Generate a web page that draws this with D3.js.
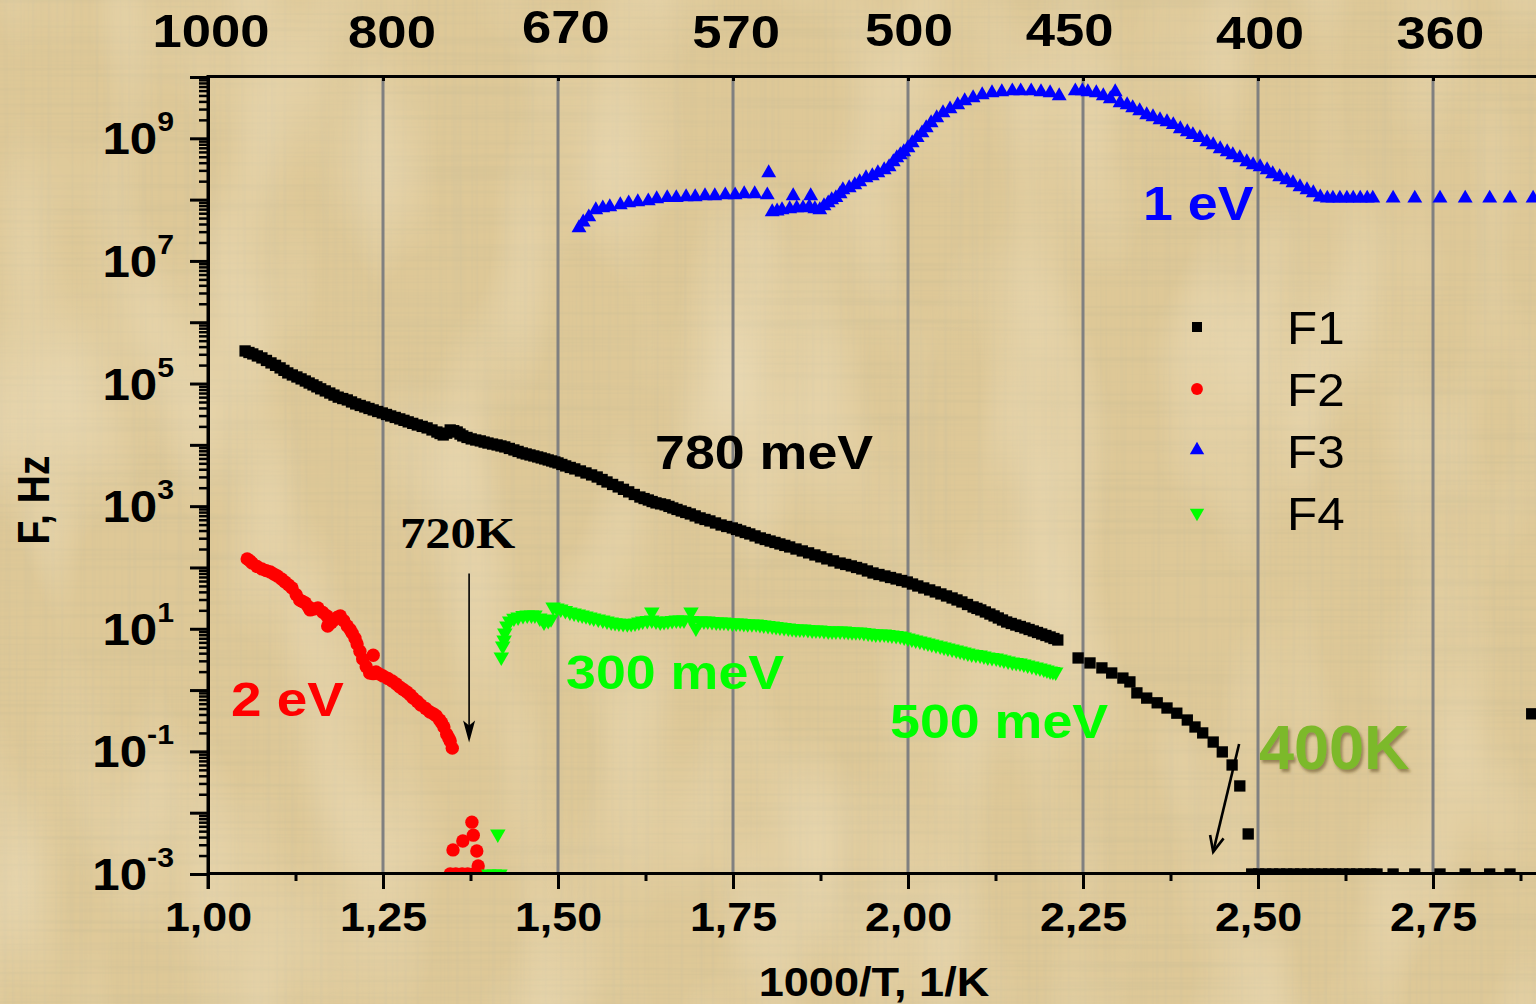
<!DOCTYPE html>
<html>
<head>
<meta charset="utf-8">
<script src="https://cdn.jsdelivr.net/npm/d3@7"></script>
<style>
  html, body { margin: 0; padding: 0; background: #dec897; overflow: hidden; }
  svg { display: block; }
</style>
</head>
<body>
<svg id="chart" width="1536" height="1004"></svg>
<script>
// ---- data: [1000/T (1/K), F (Hz)] ----
const seriesNames = ["F1", "F2", "F3", "F4"];

const f1 = [
  [1.053,3.4e5],[1.0585,3.21e5],[1.064,3.04e5],[1.0705,2.82e5],[1.077,2.62e5],[1.0835,2.38e5],
  [1.090,2.17e5],[1.0965,1.98e5],[1.103,1.80e5],[1.1085,1.64e5],[1.114,1.49e5],[1.1205,1.38e5],
  [1.127,1.28e5],[1.133,1.19e5],[1.139,1.10e5],[1.1445,1.02e5],[1.150,9.5e4],[1.1555,8.83e4],
  [1.161,8.2e4],[1.1675,7.58e4],[1.174,7.0e4],[1.180,6.48e4],[1.186,6.0e4],[1.1925,5.69e4],
  [1.199,5.4e4],[1.205,5.01e4],[1.211,4.65e4],[1.2175,4.39e4],[1.224,4.15e4],[1.230,3.92e4],
  [1.236,3.71e4],[1.2425,3.50e4],[1.249,3.31e4],[1.255,3.13e4],[1.261,2.96e4],[1.2675,2.80e4],
  [1.274,2.65e4],[1.280,2.51e4],[1.286,2.37e4],[1.2925,2.24e4],[1.299,2.11e4],[1.306,2.00e4],
  [1.313,1.89e4],[1.320,1.75e4],[1.327,1.62e4],[1.3315,1.53e4],[1.336,1.45e4],[1.341,1.55e4],
  [1.346,1.75e4],[1.351,1.70e4],[1.356,1.62e4],[1.360,1.50e4],[1.364,1.40e4],[1.370,1.32e4],
  [1.376,1.25e4],[1.3825,1.20e4],[1.389,1.16e4],[1.3945,1.11e4],[1.400,1.07e4],[1.4065,1.03e4],
  [1.413,9.96e3],[1.4185,9.6e3],[1.424,9.25e3],[1.4305,8.74e3],[1.437,8.26e3],[1.443,7.81e3],
  [1.449,7.38e3],[1.4545,7.1e3],[1.460,6.84e3],[1.4655,6.59e3],[1.471,6.35e3],[1.476,6.12e3],
  [1.481,5.89e3],[1.486,5.67e3],[1.491,5.46e3],[1.4955,5.26e3],[1.500,5.07e3],[1.5055,4.79e3],
  [1.511,4.53e3],[1.5175,4.28e3],[1.524,4.05e3],[1.532,3.75e3],[1.540,3.48e3],[1.548,3.23e3],
  [1.556,2.99e3],[1.563,2.72e3],[1.570,2.48e3],[1.578,2.26e3],[1.586,2.06e3],[1.5935,1.88e3],
  [1.601,1.71e3],[1.609,1.55e3],[1.617,1.41e3],[1.623,1.33e3],[1.629,1.26e3],[1.6345,1.19e3],
  [1.640,1.13e3],[1.6465,1.09e3],[1.653,1.05e3],[1.6585,991],[1.664,935],[1.670,884],
  [1.676,835],[1.6825,789],[1.689,746],[1.696,693],[1.703,643],[1.710,607],[1.717,574],
  [1.725,532],[1.733,493],[1.741,466],[1.749,441],[1.755,417],[1.761,394],[1.7675,372],
  [1.774,352],[1.7815,327],[1.789,303],[1.796,286],[1.803,270],[1.810,256],[1.817,242],
  [1.824,229],[1.831,216],[1.840,200],[1.849,186],[1.858,173],[1.867,160],[1.8755,149],
  [1.884,138],[1.8935,128],[1.903,118],[1.911,112],[1.919,106],[1.9265,100],[1.934,94.6],
  [1.942,87.7],[1.950,81.3],[1.9585,76.8],[1.967,72.6],[1.975,68.6],[1.983,64.9],[1.991,61.3],
  [1.999,57.9],[2.0065,53.7],[2.014,49.9],[2.0225,46.3],[2.031,43.0],[2.039,39.9],[2.047,37.0],
  [2.055,34.3],[2.063,31.8],[2.070,29.5],[2.077,27.4],[2.085,24.9],[2.093,22.7],[2.0985,21.5],
  [2.104,20.3],[2.1105,18.8],[2.117,17.4],[2.123,16.2],[2.129,15.0],[2.135,13.9],[2.141,12.9],
  [2.1475,12.2],[2.154,11.5],[2.1605,10.9],[2.167,10.3],[2.173,9.73],[2.179,9.2],[2.185,8.7],
  [2.191,8.22],[2.197,7.77],[2.203,7.35],[2.2085,6.94],[2.214,6.56],
  [2.243,3.34],[2.260,2.77],[2.277,2.30],[2.291,1.90],[2.307,1.57],[2.317,1.36],[2.327,0.90],
  [2.341,0.74],[2.356,0.62],[2.370,0.51],[2.384,0.42],[2.399,0.325],[2.410,0.25],[2.421,0.20],
  [2.436,0.142],[2.449,0.098],[2.463,0.060],[2.474,0.0273],[2.486,0.0045],
  [2.491,1e-3],[2.501,1e-3],[2.511,1e-3],[2.521,1e-3],[2.531,1e-3],[2.541,1e-3],[2.551,1e-3],
  [2.561,1e-3],[2.571,1e-3],[2.581,1e-3],[2.591,1e-3],[2.601,1e-3],[2.611,1e-3],[2.621,1e-3],
  [2.631,1e-3],[2.641,1e-3],[2.651,1e-3],[2.661,1e-3],[2.670,1e-3],
  [2.693,1e-3],[2.724,1e-3],[2.760,1e-3],[2.796,1e-3],[2.831,1e-3],[2.860,1e-3],
  [2.891,0.41]
];

const f2 = [
  [1.056,138],[1.060,128],[1.063,118],[1.070,104],[1.077,94.6],[1.083,89],[1.089,84.5],
  [1.094,78],[1.099,72.6],[1.105,65],[1.110,58],[1.115,52],[1.120,46.3],[1.126,36],
  [1.131,29.5],[1.135,27.8],[1.139,26.4],[1.143,23],[1.146,20.3],[1.151,21],[1.157,21.8],
  [1.164,18.5],[1.170,16.2],[1.171,11.1],[1.176,12.5],[1.180,13.9],[1.185,15.5],[1.189,16.2],
  [1.194,13.5],[1.199,11.1],[1.203,9.7],[1.206,8.5],[1.210,7.0],[1.213,5.65],[1.217,4.3],
  [1.221,3.2],[1.226,2.4],[1.236,3.7],[1.231,1.9],[1.236,1.85],[1.240,1.97],[1.245,1.82],
  [1.250,1.70],[1.257,1.55],[1.263,1.41],[1.269,1.26],[1.274,1.12],[1.279,1.02],[1.284,0.93],
  [1.289,0.83],[1.293,0.74],[1.299,0.65],[1.304,0.57],[1.311,0.50],[1.317,0.44],[1.322,0.41],
  [1.326,0.38],[1.331,0.325],[1.334,0.29],[1.337,0.25],[1.341,0.19],[1.344,0.165],
  [1.346,0.148],[1.349,0.113],
  [1.350,2.47e-3],[1.364,3.45e-3],[1.377,7.0e-3],[1.379,4.3e-3],[1.384,2.37e-3],[1.386,1.35e-3],
  [1.346,1e-3],[1.354,1e-3],[1.363,1e-3],[1.371,1e-3],[1.380,1e-3],[1.387,1e-3]
];

const f3 = [
  [1.530,3.45e7],[1.536,4.3e7],[1.544,5.2e7],[1.554,6.8e7],[1.564,7.3e7],[1.574,7.6e7],
  [1.589,8.2e7],[1.601,8.8e7],[1.614,9.2e7],[1.629,9.5e7],[1.641,1.03e8],[1.656,1.07e8],
  [1.669,1.07e8],[1.683,1.11e8],[1.696,1.11e8],[1.710,1.15e8],[1.724,1.15e8],[1.739,1.19e8],
  [1.753,1.19e8],[1.766,1.24e8],[1.781,1.24e8],[1.799,1.19e8],[1.801,2.73e8],[1.806,6.3e7],
  [1.813,6.5e7],[1.820,6.8e7],[1.831,7.05e7],[1.836,1.15e8],[1.841,7.3e7],[1.850,7.3e7],
  [1.859,7.6e7],[1.861,1.15e8],[1.867,7.05e7],[1.874,6.8e7],[1.880,7.9e7],[1.886,8.8e7],
  [1.891,9.9e7],[1.897,1.07e8],[1.903,1.24e8],[1.907,1.44e8],[1.916,1.55e8],[1.924,1.74e8],
  [1.931,1.95e8],[1.940,2.26e8],[1.949,2.44e8],[1.957,2.73e8],[1.966,3.05e8],[1.973,3.41e8],
  [1.979,4.12e8],[1.984,4.79e8],[1.989,5.36e8],[1.994,6.0e8],[2.000,6.97e8],[2.006,8.4e8],
  [2.013,1.02e9],[2.020,1.22e9],[2.026,1.48e9],[2.033,1.78e9],[2.041,2.15e9],[2.050,2.6e9],
  [2.060,3.0e9],[2.071,3.5e9],[2.081,4.07e9],[2.093,4.56e9],[2.106,5.1e9],[2.120,5.5e9],
  [2.134,5.7e9],[2.149,5.9e9],[2.161,5.9e9],[2.176,5.9e9],[2.190,5.7e9],[2.203,5.5e9],
  [2.216,4.92e9],
  [2.239,5.9e9],[2.249,5.9e9],[2.257,5.7e9],[2.269,5.5e9],[2.279,4.92e9],[2.289,4.4e9],
  [2.296,5.7e9],[2.303,3.78e9],[2.313,3.5e9],[2.321,3.13e9],[2.331,2.8e9],[2.341,2.41e9],
  [2.350,2.23e9],[2.360,2.0e9],[2.370,1.85e9],[2.379,1.66e9],[2.389,1.42e9],[2.399,1.27e9],
  [2.407,1.14e9],[2.417,1.02e9],[2.427,8.7e8],[2.436,7.8e8],[2.446,6.7e8],[2.456,6.0e8],
  [2.464,5.36e8],[2.474,4.79e8],[2.484,4.12e8],[2.493,3.68e8],[2.503,3.41e8],[2.513,3.05e8],
  [2.521,2.62e8],[2.531,2.35e8],[2.541,2.09e8],[2.550,1.87e8],[2.560,1.61e8],[2.570,1.44e8],
  [2.579,1.29e8],[2.589,1.1e8],[2.599,1.05e8],[2.607,1.05e8],[2.617,1.05e8],[2.627,1.05e8],
  [2.636,1.05e8],[2.646,1.05e8],[2.656,1.05e8],[2.664,1.05e8],[2.693,1.05e8],[2.724,1.05e8],
  [2.760,1.05e8],[2.796,1.05e8],[2.831,1.05e8],[2.860,1.05e8],[2.893,1.05e8]
];

const f4 = [
  [1.419,3.47],[1.421,5.24],[1.423,6.56],[1.424,8.5],[1.427,11.1],[1.431,13.4],[1.437,14.9],
  [1.443,15.6],[1.450,16.4],[1.456,16.8],[1.462,16.8],[1.467,16.8],[1.474,15.0],[1.480,12.9],
  [1.486,13.6],[1.490,14.5],
  [1.493,22.7],[1.4985,21.8],[1.504,21.0],[1.5105,19.9],[1.517,18.8],[1.523,18.1],[1.529,17.4],
  [1.5345,16.8],[1.540,16.2],[1.5455,15.6],[1.551,15.0],[1.5575,14.4],[1.564,13.9],[1.570,13.4],
  [1.576,12.9],[1.5815,12.6],[1.587,12.4],[1.593,12.2],[1.599,12.0],[1.6045,12.2],[1.610,12.4],
  [1.6155,12.9],[1.621,13.4],[1.6275,13.6],[1.634,18.8],[1.634,13.9],[1.640,13.4],[1.646,12.9],
  [1.6515,13.1],[1.657,13.4],[1.663,13.6],[1.669,13.9],[1.6745,13.9],[1.680,13.9],[1.690,18.8],
  [1.6915,13.6],[1.697,10.3],[1.703,13.4],[1.7085,13.4],[1.714,13.4],[1.720,13.1],[1.726,12.9],
  [1.7315,12.9],[1.737,12.9],[1.743,12.6],[1.749,12.4],[1.7545,12.4],[1.760,12.4],[1.7655,12.2],
  [1.771,12.0],[1.777,12.0],[1.783,12.0],[1.7885,11.7],[1.794,11.5],[1.800,11.3],[1.806,11.1],
  [1.8115,10.9],[1.817,10.7],[1.823,10.5],[1.829,10.3],[1.8345,10.1],[1.840,9.93],[1.8455,9.93],
  [1.851,9.93],[1.857,9.74],[1.863,9.55],[1.8685,9.55],[1.874,9.55],[1.880,9.37],[1.886,9.2],
  [1.8915,9.2],[1.897,9.2],[1.903,9.2],[1.909,9.2],[1.9145,9.05],[1.920,8.9],[1.9255,8.9],
  [1.931,8.9],[1.937,8.71],[1.943,8.53],[1.9485,8.37],[1.954,8.22],[1.960,8.22],[1.966,8.22],
  [1.9715,8.06],[1.977,7.9],[1.983,7.76],[1.989,7.63],[1.9945,7.35],[2.000,7.08],[2.0055,6.81],
  [2.011,6.56],[2.017,6.32],[2.023,6.09],[2.0285,5.87],[2.034,5.65],[2.040,5.44],[2.046,5.24],
  [2.0515,5.05],[2.057,4.86],[2.063,4.68],[2.069,4.51],[2.0745,4.35],[2.080,4.19],[2.0855,4.03],
  [2.091,3.88],[2.097,3.81],[2.103,3.74],[2.1085,3.60],[2.114,3.47],[2.120,3.40],[2.126,3.34],
  [2.1315,3.22],[2.137,3.10],[2.143,2.98],[2.149,2.87],[2.1545,2.82],[2.160,2.77],[2.1655,2.66],
  [2.171,2.56],[2.177,2.47],[2.183,2.38],[2.1885,2.29],[2.194,2.21],[2.1985,2.13],[2.203,2.05],
  [2.207,2.01],[2.211,1.97],
  [1.414,4.5e-3],[1.401,1e-3],[1.409,1e-3],[1.417,1e-3]
];

// axis ticks and labels
const xMajor = [1.00, 1.25, 1.50, 1.75, 2.00, 2.25, 2.50, 2.75];
const xMinor = [1.125, 1.375, 1.625, 1.875, 2.125, 2.375, 2.625, 2.875];
const gridValues = [1.25, 1.50, 1.75, 2.00, 2.25, 2.50, 2.75];
const yDecadeExps = d3.range(-3, 11);
const yLabelExps = [9, 7, 5, 3, 1, -1, -3];
const topTemps = [1000, 800, 670, 570, 500, 450, 400, 360];
const xTitle = "1000/T, 1/K";
const yTitle = "F, Hz";

// ---- layout ----
const W = 1536, H = 1004;
const plot = { left: 208, top: 77, bottom: 874, right: 1538 };
const svg = d3.select("#chart");
const defs = svg.append("defs");

const x = d3.scaleLinear().domain([1, 2.9]).range([plot.left, plot.right]);
const y = d3.scaleLog().domain([1e-3, 1e10]).range([plot.bottom, plot.top]);

const SANS = "'Liberation Sans', Arial, Helvetica, sans-serif";
const SERIF = "'Liberation Serif', 'Times New Roman', serif";

// paper background with fine fibre texture
svg.append("rect").attr("width", W).attr("height", H).attr("fill", "#dec897");
function fibre(id, freq, seed, matrix) {
  const f = defs.append("filter").attr("id", id)
    .attr("x", 0).attr("y", 0).attr("width", "100%").attr("height", "100%");
  f.append("feTurbulence").attr("type", "fractalNoise").attr("baseFrequency", freq)
    .attr("numOctaves", 2).attr("seed", seed);
  f.append("feColorMatrix").attr("type", "matrix").attr("values", matrix);
  svg.append("rect").attr("width", W).attr("height", H).attr("filter", `url(#${id})`);
}
fibre("fibreH", "0.003 0.25", 4, "0 0 0 0 0.62  0 0 0 0 0.52  0 0 0 0 0.30  1.1 0 0 0 -0.48");
fibre("fibreV", "0.25 0.003", 9, "0 0 0 0 0.64  0 0 0 0 0.54  0 0 0 0 0.32  1.1 0 0 0 -0.48");
fibre("sheen", "0.01 0.004", 2, "0 0 0 0 0.94  0 0 0 0 0.86  0 0 0 0 0.68  0.8 0 0 0 -0.33");

// vertical grid lines
svg.append("g").selectAll("line").data(gridValues).join("line")
  .attr("x1", d => x(d)).attr("x2", d => x(d))
  .attr("y1", plot.top).attr("y2", plot.bottom)
  .attr("stroke", "#808080").attr("stroke-width", 3);

// data markers, clipped to the frame
defs.append("clipPath").attr("id", "frame").append("rect")
  .attr("x", plot.left).attr("y", plot.top)
  .attr("width", W - plot.left).attr("height", plot.bottom - plot.top);

const shapes = {
  square: d3.symbol().type(d3.symbolSquare).size(128)(),
  circle: d3.symbol().type(d3.symbolCircle).size(140)(),
  up: d3.symbol().type(d3.symbolTriangle).size(96)(),
  down: d3.symbol().type(d3.symbolTriangle).size(104)()
};
const legendShapes = {
  square: d3.symbol().type(d3.symbolSquare).size(100)(),
  circle: d3.symbol().type(d3.symbolCircle).size(110)(),
  up: d3.symbol().type(d3.symbolTriangle).size(90)(),
  down: d3.symbol().type(d3.symbolTriangle).size(90)()
};
const styles = [
  { data: f1, shape: "square", color: "#000000", rot: 0 },
  { data: f2, shape: "circle", color: "#ff0000", rot: 0 },
  { data: f3, shape: "up", color: "#0000ff", rot: 0 },
  { data: f4, shape: "down", color: "#00ff00", rot: 180 }
];

const marks = svg.append("g").attr("clip-path", "url(#frame)");
styles.forEach(s => {
  marks.append("g").selectAll("path").data(s.data).join("path")
    .attr("d", shapes[s.shape])
    .attr("transform", d => `translate(${x(d[0])},${y(d[1])})` + (s.rot ? ` rotate(${s.rot})` : ""))
    .attr("fill", s.color);
});

// ---- axes ----
function styleAxis(g, w) {
  g.selectAll(".domain").attr("stroke", "#000").attr("stroke-width", w);
  g.selectAll(".tick line").attr("stroke", "#000").attr("stroke-width", w);
}

// bottom
const gxMinor = svg.append("g").attr("transform", `translate(0,${plot.bottom - 1})`)
  .call(d3.axisBottom(x).tickValues(xMinor).tickSize(8).tickFormat(""));
gxMinor.select(".domain").remove();
styleAxis(gxMinor, 3);

const gx = svg.append("g").attr("transform", `translate(0,${plot.bottom - 1})`)
  .call(d3.axisBottom(x).tickValues(xMajor).tickSize(16).tickSizeOuter(0).tickPadding(14)
    .tickFormat(d => d3.format(".2f")(d).replace(".", ",")));
styleAxis(gx, 3);
gx.selectAll("text")
  .attr("font-family", SANS).attr("font-weight", "bold").attr("font-size", 40)
  .attr("fill", "#000").attr("transform", "scale(1.12,1)");

// top
const gTop = svg.append("g").attr("transform", `translate(0,${plot.top - 1})`)
  .call(d3.axisTop(x).tickValues(xMajor).tickSize(-5).tickSizeOuter(0).tickFormat(""));
styleAxis(gTop, 3);

// left
const gyMinor = svg.append("g").attr("transform", `translate(${plot.left},0)`)
  .call(d3.axisLeft(y).tickValues(d3.merge(yDecadeExps.slice(0, -1).map(e => d3.range(2, 10).map(k => k * Math.pow(10, e)))))
    .tickSize(9).tickFormat(""));
gyMinor.select(".domain").remove();
styleAxis(gyMinor, 2.5);

const gy = svg.append("g").attr("transform", `translate(${plot.left},0)`)
  .call(d3.axisLeft(y).tickValues(yDecadeExps.map(e => Math.pow(10, e))).tickSize(18).tickSizeOuter(0).tickFormat(""));
styleAxis(gy, 3);
svg.append("line").attr("x1", plot.left).attr("x2", plot.left)
  .attr("y1", plot.top - 2).attr("y2", plot.bottom + 15)
  .attr("stroke", "#000").attr("stroke-width", 3);

// ---- text helper (slightly widened glyphs) ----
function label(str, px, py, o = {}) {
  const g = svg.append("g")
    .attr("transform", `translate(${px},${py}) scale(${o.sx || 1.12},${o.sy || 1})` + (o.rot ? ` rotate(${o.rot})` : ""));
  const t = g.append("text")
    .attr("text-anchor", o.anchor || "start")
    .attr("font-family", o.family || SANS)
    .attr("font-weight", o.weight || "bold")
    .attr("font-size", o.size || 40)
    .attr("fill", o.fill || "#000")
    .text(str);
  if (o.filter) t.attr("filter", o.filter);
  return t;
}

// y tick labels 10^n
yLabelExps.forEach(e => {
  const py = y(Math.pow(10, e));
  const g = svg.append("g").attr("transform", `translate(174,${py + 16}) scale(1.12,1)`);
  const t = g.append("text").attr("text-anchor", "end")
    .attr("font-family", SANS).attr("font-weight", "bold").attr("fill", "#000");
  t.append("tspan").attr("font-size", 44).text("10");
  t.append("tspan").attr("font-size", 27).attr("dy", -23).text(String(e).replace("\u2212", "-"));
});

// top temperature labels (K)
const topNudge = { 1000: [3, 47], 800: [9, 48], 670: [13, 43], 570: [0, 48], 500: [1, 46], 450: [6, 46], 400: [2, 49], 360: [-12, 49] };
topTemps.forEach(T => {
  const [dx, by] = topNudge[T];
  label(String(T), x(1000 / T) + dx, by, { size: 47, anchor: "middle" });
});

// axis titles
label(xTitle, 874, 996, { size: 41, anchor: "middle", sx: 1.1 });
label(yTitle, 49, 500, { size: 39, anchor: "middle", sx: 1.15, rot: -90 });

// ---- annotations ----
label("1 eV", 1143, 220, { size: 48, fill: "#0000ff" });
label("780 meV", 655, 469, { size: 48, fill: "#000" });
label("2 eV", 231, 716, { size: 49, fill: "#ff0000" });
label("300 meV", 566, 689, { size: 48, fill: "#00ff00" });
label("500 meV", 890, 738, { size: 48, fill: "#00ff00" });
label("720K", 400, 548, { size: 44, family: SERIF, sx: 1.15 });

const shadow = defs.append("filter").attr("id", "soft").attr("x", "-10%").attr("y", "-10%").attr("width", "130%").attr("height", "140%");
shadow.append("feDropShadow").attr("dx", 2).attr("dy", 3).attr("stdDeviation", 1.6)
  .attr("flood-color", "#5b4a22").attr("flood-opacity", 0.55);
label("400K", 1259, 769, { size: 63, fill: "#7cb92a", sx: 1.0, filter: "url(#soft)" });

// 720K arrow
const ax = x(1.373), ayTop = y(80), ayTip = y(0.14);
svg.append("line")
  .attr("x1", ax).attr("x2", ax).attr("y1", ayTop).attr("y2", ayTip - 6)
  .attr("stroke", "#000").attr("stroke-width", 1.6);
svg.append("path")
  .attr("d", `M${ax - 6},${ayTip - 22} L${ax},${ayTip} L${ax + 6},${ayTip - 22} L${ax},${ayTip - 17} Z`)
  .attr("fill", "#000");

// 400K arrow (open head)
const a0 = [x(2.473), y(0.132)], a1 = [x(2.436), y(2.3e-3)];
svg.append("line").attr("x1", a0[0]).attr("y1", a0[1]).attr("x2", a1[0]).attr("y2", a1[1])
  .attr("stroke", "#000").attr("stroke-width", 2.6);
{
  const ang = Math.atan2(a1[1] - a0[1], a1[0] - a0[0]);
  const len = 17, spread = 0.42;
  const p1 = [a1[0] - len * Math.cos(ang - spread), a1[1] - len * Math.sin(ang - spread)];
  const p2 = [a1[0] - len * Math.cos(ang + spread), a1[1] - len * Math.sin(ang + spread)];
  svg.append("path").attr("d", `M${p1[0]},${p1[1]} L${a1[0]},${a1[1]} L${p2[0]},${p2[1]}`)
    .attr("fill", "none").attr("stroke", "#000").attr("stroke-width", 2.6)
    .attr("stroke-linejoin", "miter");
}

// ---- legend ----
const legendRows = [327, 389, 450, 513];
const legendLabelBase = [344, 406, 468, 530];
seriesNames.forEach((name, i) => {
  const s = styles[i];
  svg.append("path").attr("d", legendShapes[s.shape])
    .attr("transform", `translate(1197,${legendRows[i]})` + (s.rot ? ` rotate(${s.rot})` : ""))
    .attr("fill", s.color);
  label(name, 1287, legendLabelBase[i], { size: 47, weight: "normal", sx: 1.05 });
});
</script>
</body>
</html>
